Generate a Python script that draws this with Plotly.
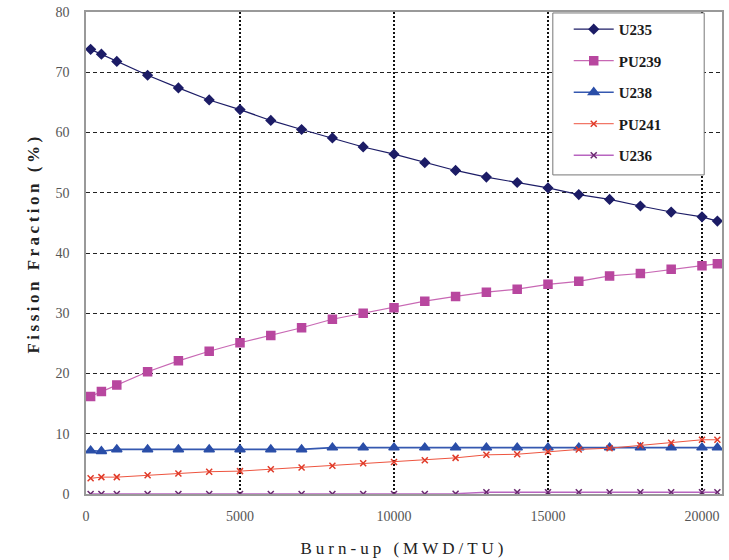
import plotly.graph_objects as go

burnup = [150, 500, 1000, 2000, 3000, 4000, 5000, 6000, 7000, 8000, 9000, 10000,
          11000, 12000, 13000, 14000, 15000, 16000, 17000, 18000, 19000, 20000, 20500]

u235 = [73.8, 73.0, 71.8, 69.5, 67.4, 65.4, 63.8, 62.0, 60.5, 59.1, 57.6, 56.4,
        55.0, 53.7, 52.6, 51.7, 50.8, 49.7, 48.9, 47.8, 46.8, 46.0, 45.3]
pu239 = [16.2, 17.0, 18.1, 20.3, 22.1, 23.7, 25.1, 26.3, 27.6, 29.0, 30.0, 30.9,
         32.0, 32.8, 33.5, 34.0, 34.8, 35.3, 36.2, 36.6, 37.3, 37.9, 38.2]
u238 = [7.2, 7.1, 7.4, 7.4, 7.4, 7.4, 7.4, 7.4, 7.4, 7.7, 7.7, 7.7,
        7.7, 7.7, 7.7, 7.7, 7.7, 7.7, 7.7, 7.7, 7.7, 7.7, 7.7]
pu241 = [2.6, 2.8, 2.8, 3.1, 3.4, 3.7, 3.8, 4.1, 4.4, 4.7, 5.1, 5.3,
         5.6, 6.0, 6.5, 6.6, 7.0, 7.4, 7.6, 8.1, 8.5, 9.0, 9.0]
u236 = [0.0, 0.0, 0.0, 0.0, 0.0, 0.0, 0.0, 0.0, 0.0, 0.0, 0.0, 0.0,
        0.0, 0.05, 0.3, 0.3, 0.3, 0.3, 0.3, 0.3, 0.3, 0.3, 0.3]

x_ticks = [0, 5000, 10000, 15000, 20000]
y_ticks = [0, 10, 20, 30, 40, 50, 60, 70, 80]

series = [
    ("U235", u235, "#1c1c66", "#1c1c66", "diamond", 7, 1.2),
    ("PU239", pu239, "#b8479f", "#c868b4", "square", 8, 1.2),
    ("U238", u238, "#2a4ea8", "#3558b0", "triangle-up", 9, 1.6),
    ("PU241", pu241, "#e03a28", "#ee5540", "x-thin-open", 6, 1.0),
    ("U236", u236, "#6a2a70", "#b865c0", "x-thin-open", 6, 1.4),
]

fig = go.Figure()
for name, vals, mcol, lcol, sym, size, lw in series:
    fig.add_trace(go.Scatter(
        x=burnup, y=vals, name=name, mode="lines+markers",
        legendgroup=name,
        line=dict(color=lcol, width=lw),
        marker=dict(symbol=sym, size=size, color=mcol,
                    line=dict(color=mcol, width=1.5)),
    ))

tick_font = dict(family="Liberation Serif", size=14, color="#555555")

fig.update_layout(
    width=729, height=560,
    margin=dict(l=86, r=7, t=12, b=66),
    paper_bgcolor="white", plot_bgcolor="white",
    showlegend=True,
    legend=dict(
        x=0.759, y=0.998, xanchor="left", yanchor="top",
        bgcolor="rgba(0,0,0,0)", borderwidth=0,
        font=dict(family="Liberation Serif", size=15, color="#1a1a1a", weight="bold"),
        tracegroupgap=9, itemwidth=40,
    ),
    shapes=[dict(
        type="rect", xref="paper", yref="paper",
        x0=0.734, x1=0.972, y0=0.662, y1=0.998,
        fillcolor="white", line=dict(color="#777777", width=1), layer="above",
    )],
    xaxis=dict(
        range=[0, 20650], tickvals=x_ticks, ticktext=[str(v) for v in x_ticks],
        showgrid=True, gridcolor="#111111", gridwidth=1.6, griddash="2px,2px",
        zeroline=False, showline=True, linecolor="#999999", linewidth=1.5, mirror=True,
        ticks="", tickfont=tick_font, ticklabelstandoff=8, automargin=False,
        title=dict(text='<span style="letter-spacing:4px">Burn-up (MWD/TU)</span>',
                   font=dict(family="Liberation Serif", size=17, color="#222222"),
                   standoff=20),
    ),
    yaxis=dict(
        range=[0, 80], tickvals=y_ticks, ticktext=[str(v) for v in y_ticks],
        showgrid=True, gridcolor="#222222", gridwidth=1.2, griddash="4px,3px",
        zeroline=False, showline=True, linecolor="#999999", linewidth=1.5, mirror=True,
        ticks="", tickfont=tick_font, ticklabelstandoff=12, automargin=False,
        ticklabeloverflow="allow",
    ),
    annotations=[dict(
        text='<span style="letter-spacing:3.5px">Fission Fraction (%)</span>',
        xref="paper", yref="paper", x=-0.083, y=0.52,
        textangle=-90, showarrow=False, xanchor="center", yanchor="middle",
        font=dict(family="Liberation Serif", size=17, color="#222222", weight="bold"),
    )],
)

fig.write_html("out.html", config={"displayModeBar": False},
               post_script="document.body.style.margin='0';")
